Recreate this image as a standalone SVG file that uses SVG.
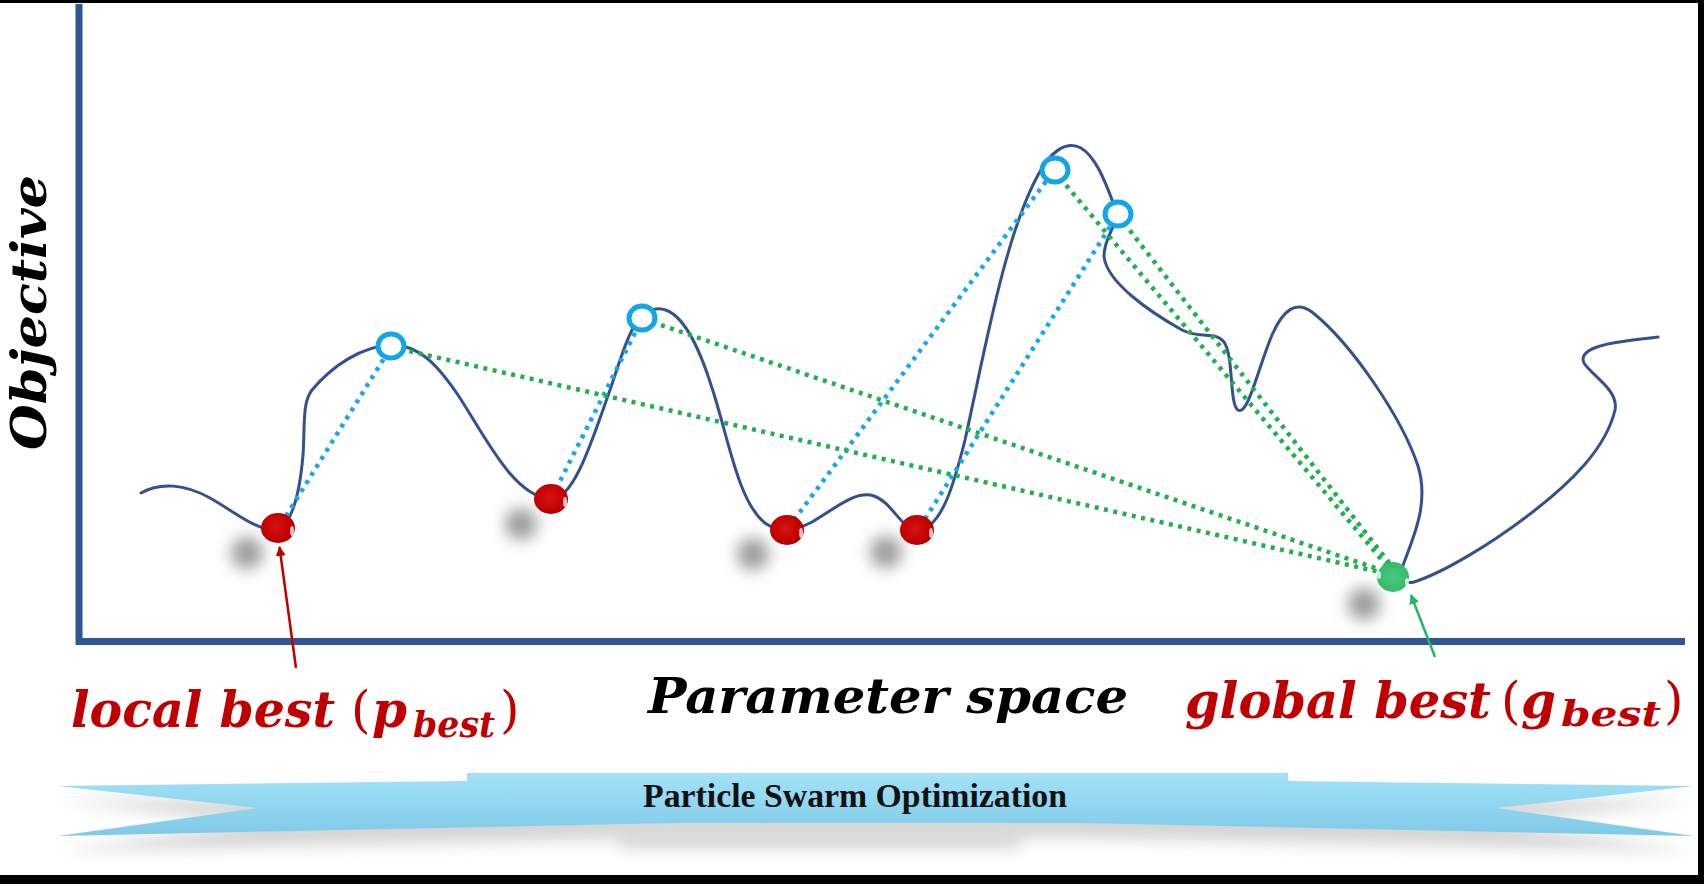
<svg xmlns="http://www.w3.org/2000/svg" width="1704" height="884" viewBox="0 0 1704 884">
<defs>
<style>
.lbl{font-family:"DejaVu Serif","Liberation Serif",serif;font-weight:bold;font-style:italic;}
.par{font-family:"DejaVu Serif","Liberation Serif",serif;font-weight:normal;font-style:normal;}
.red{fill:#c00000}
.blk{fill:#000}
.axis{stroke:#2f5597;stroke-width:7;fill:none}
.curve{fill:none;stroke:#34518f;stroke-width:3;stroke-linecap:round;stroke-linejoin:round}
.dotb{fill:none;stroke:#1aa6ea;stroke-width:4.5;stroke-dasharray:4 5.5}
.dotg{fill:none;stroke:#22b04e;stroke-width:4.5;stroke-dasharray:4 5.5}
.cy{fill:#fff;stroke:#12a5ea;stroke-width:5}
.sh{fill:#9a9a9a;filter:url(#blur)}
.rb{fill:url(#rball)}
.hl{fill:#fff;opacity:0.75}
</style>
<filter id="blur" x="-1" y="-1" width="3" height="3"><feGaussianBlur stdDeviation="8"/></filter>
<filter id="blur2" x="-0.1" y="-1" width="1.2" height="3"><feGaussianBlur stdDeviation="8"/></filter>
<radialGradient id="rball" cx="0.45" cy="0.45" r="0.6">
<stop offset="0" stop-color="#d81414"/><stop offset="0.75" stop-color="#c00000"/><stop offset="1" stop-color="#a00000"/>
</radialGradient>
<radialGradient id="gball" cx="0.5" cy="0.5" r="0.6">
<stop offset="0" stop-color="#48c97c"/><stop offset="0.8" stop-color="#38ba6c"/><stop offset="1" stop-color="#2fa860"/>
</radialGradient>
<linearGradient id="rib" x1="0" y1="0" x2="0" y2="1">
<stop offset="0" stop-color="#a4e2f8"/><stop offset="1" stop-color="#7ecae8"/>
</linearGradient>
<marker id="ar" viewBox="0 0 10 10" refX="9" refY="5" markerWidth="4" markerHeight="4" orient="auto" markerUnits="strokeWidth">
<path d="M0,0 L10,5 L0,10 z" fill="#c00000"/>
</marker>
<marker id="ag" viewBox="0 0 10 10" refX="9" refY="5" markerWidth="4" markerHeight="4" orient="auto" markerUnits="strokeWidth">
<path d="M0,0 L10,5 L0,10 z" fill="#27b56a"/>
</marker>
</defs>

<rect x="0" y="0" width="1704" height="884" fill="#fff"/>

<g id="axes">
<line class="axis" x1="79" y1="4" x2="79" y2="645"/>
<line class="axis" x1="76" y1="641.5" x2="1685" y2="641.5"/>
</g>

<g id="shadows">
<circle class="sh" cx="247" cy="553" r="16"/>
<circle class="sh" cx="521" cy="524" r="16"/>
<circle class="sh" cx="753" cy="554" r="16"/>
<circle class="sh" cx="886" cy="552" r="16"/>
<circle class="sh" cx="1364" cy="604" r="16"/>
</g>

<g id="curve">
<path class="curve" d="M141,493 C160,482 185,484 210,498 C235,512 258,532 278,530 C293,522 300,490 303,455 C305,428 302,402 312,390 C332,366 362,346 391,345 C420,344 440,368 460,398 C488,442 515,497 551,499 C574,500 592,440 610,390 C624,350 632,312 656,309 C682,306 700,350 712,388 C728,436 738,502 765,523 C780,534 797,530 812,522 C836,508 856,490 874,496 C892,502 902,530 917,530 C942,530 955,480 965,440 C985,350 1005,235 1038,175 C1050,152 1066,140 1081,148 C1098,158 1108,190 1116,210 C1120,222 1104,236 1104,256 C1106,282 1150,312 1182,330 C1202,340 1214,330 1224,342 C1234,356 1229,404 1238,410 C1248,416 1258,368 1272,335 C1283,310 1296,300 1312,312 C1352,344 1402,418 1418,466 C1430,505 1412,540 1402,568 C1398,580 1405,584 1414,582 C1445,572 1492,543 1530,514 C1572,482 1606,448 1615,410 C1619,390 1592,376 1584,363 C1578,350 1602,344 1626,341 C1640,339 1650,338 1658,337"/>
</g>

<g id="connectors">
<line class="dotb" x1="286" y1="516" x2="388" y2="352"/>
<line class="dotb" x1="556" y1="489" x2="639" y2="325"/>
<line class="dotb" x1="794" y1="520" x2="1050" y2="176"/>
<line class="dotb" x1="925" y1="519" x2="1113" y2="222"/>
<line class="dotg" x1="400" y1="349" x2="1384" y2="573"/>
<line class="dotg" x1="652" y1="322" x2="1384" y2="571"/>
<line class="dotg" x1="1060" y1="178" x2="1387" y2="566"/>
<line class="dotg" x1="1124" y1="223" x2="1390" y2="564"/>
<line x1="296" y1="668" x2="279.5" y2="547" stroke="#c00000" stroke-width="2.5" marker-end="url(#ar)"/>
<line x1="1435" y1="657" x2="1411" y2="595" stroke="#27b56a" stroke-width="2.5" marker-end="url(#ag)"/>
</g>

<g id="positions">
<ellipse class="cy" cx="391" cy="346" rx="13" ry="12"/>
<ellipse class="cy" cx="642" cy="318" rx="13" ry="12"/>
<ellipse class="cy" cx="1055" cy="170" rx="13" ry="12"/>
<ellipse class="cy" cx="1118" cy="214" rx="13" ry="12"/>
</g>

<g id="pbest-balls">
<g id="red1"><ellipse class="rb" cx="278" cy="528" rx="17" ry="15"/><ellipse class="hl" cx="292" cy="531" rx="2" ry="5"/></g>
<g id="red2"><ellipse class="rb" cx="551" cy="499" rx="17" ry="15"/><ellipse class="hl" cx="565" cy="502" rx="2" ry="5"/></g>
<g id="red3"><ellipse class="rb" cx="787" cy="530" rx="17" ry="15"/><ellipse class="hl" cx="801" cy="533" rx="2" ry="5"/></g>
<g id="red4"><ellipse class="rb" cx="917" cy="530" rx="17" ry="15"/><ellipse class="hl" cx="931" cy="533" rx="2" ry="5"/></g>
</g>

<g id="gbest-ball">
<ellipse cx="1393" cy="577" rx="16" ry="15" fill="url(#gball)"/>
<ellipse class="hl" cx="1379" cy="575" rx="2" ry="4" opacity="0.5"/>
<ellipse class="hl" cx="1407" cy="582" rx="2" ry="4" opacity="0.5"/>
</g>

<g id="labels">
<text class="lbl blk" transform="translate(46,450) rotate(-90)" font-size="48" textLength="275" lengthAdjust="spacingAndGlyphs">Objective</text>
<text class="lbl blk" x="648" y="713" font-size="49" textLength="480" lengthAdjust="spacingAndGlyphs">Parameter space</text>
<g id="local-label">
<text class="lbl red" x="71" y="727" font-size="50" textLength="264" lengthAdjust="spacingAndGlyphs">local best</text>
<text class="par red" x="351" y="727" font-size="50">(</text>
<text class="lbl red" x="372" y="727" font-size="50">p</text>
<text class="lbl red" x="413" y="737" font-size="35" textLength="82" lengthAdjust="spacingAndGlyphs">best</text>
<text class="par red" x="500" y="727" font-size="50">)</text>
</g>
<g id="global-label">
<text class="lbl red" x="1185" y="718" font-size="50" textLength="306" lengthAdjust="spacingAndGlyphs">global best</text>
<text class="par red" x="1501" y="718" font-size="50">(</text>
<text class="lbl red" x="1521" y="718" font-size="50">g</text>
<text class="lbl red" x="1561" y="726" font-size="36" textLength="100" lengthAdjust="spacingAndGlyphs">best</text>
<text class="par red" x="1664" y="718" font-size="50">)</text>
</g>
</g>

<g id="ribbon">
<path d="M467,788 L1288,788 L1288,796 L1694,801 L1496,823 L1694,851 L1081,838 L674,838 L58,851 L258,823 L58,801 L467,796 Z" fill="#b8b8b8" opacity="0.6" filter="url(#blur2)"/>
<rect x="620" y="823" width="400" height="26" fill="#d9d9d9" filter="url(#blur2)"/>
<path d="M467,773 L1288,773 L1288,781 L1694,786 L1496,808 L1694,836 L1081,823 L674,823 L58,836 L258,808 L58,786 L467,781 Z" fill="url(#rib)"/>
<text x="643" y="807" font-family="Liberation Serif, serif" font-weight="bold" font-size="33" fill="#111" textLength="424" lengthAdjust="spacingAndGlyphs">Particle Swarm Optimization</text>
</g>

<g id="frame">
<rect x="0" y="0" width="1704" height="3" fill="#000"/>
<rect x="1698" y="0" width="6" height="884" fill="#000"/>
<rect x="0" y="875" width="1704" height="9" fill="#000"/>
</g>
</svg>
